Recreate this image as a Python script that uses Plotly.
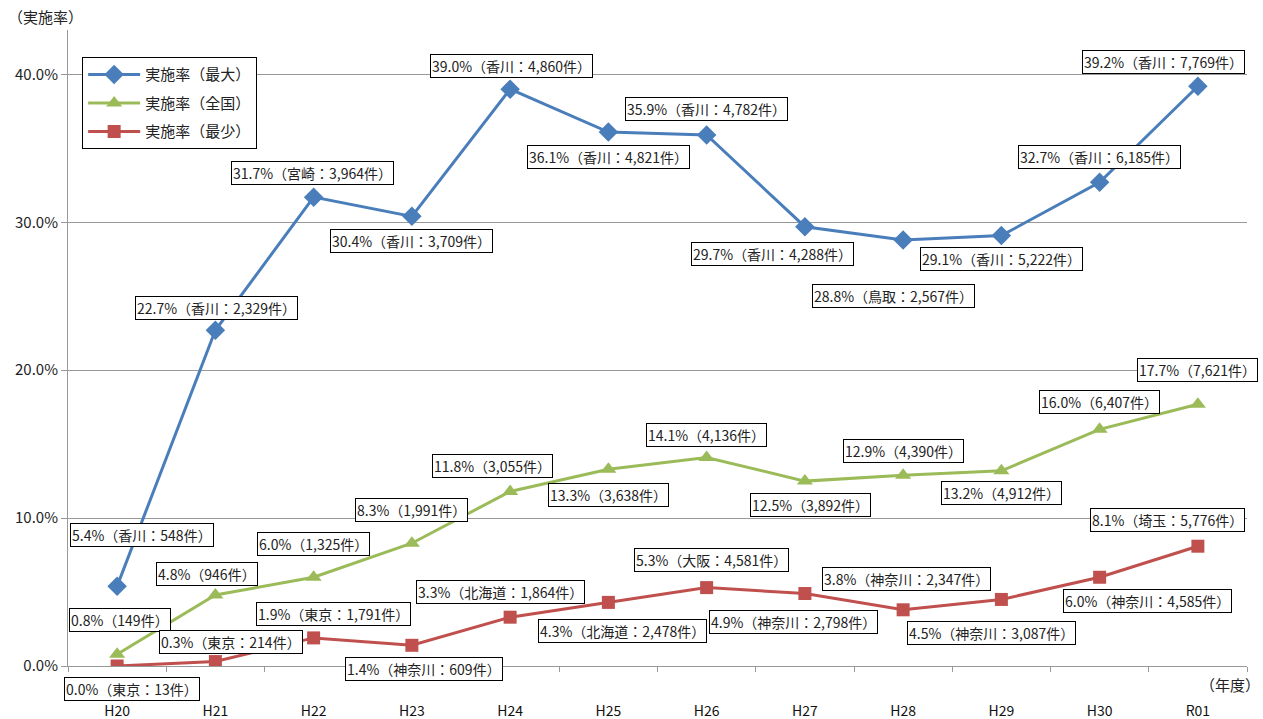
import plotly.graph_objects as go

years = ["H20", "H21", "H22", "H23", "H24", "H25", "H26", "H27", "H28", "H29", "H30", "R01"]

max_rate = [5.4, 22.7, 31.7, 30.4, 39.0, 36.1, 35.9, 29.7, 28.8, 29.1, 32.7, 39.2]
max_pref = ["香川", "香川", "宮崎", "香川", "香川", "香川", "香川", "香川", "鳥取", "香川", "香川", "香川"]
max_count = [548, 2329, 3964, 3709, 4860, 4821, 4782, 4288, 2567, 5222, 6185, 7769]

nat_rate = [0.8, 4.8, 6.0, 8.3, 11.8, 13.3, 14.1, 12.5, 12.9, 13.2, 16.0, 17.7]
nat_count = [149, 946, 1325, 1991, 3055, 3638, 4136, 3892, 4390, 4912, 6407, 7621]

min_rate = [0.0, 0.3, 1.9, 1.4, 3.3, 4.3, 5.3, 4.9, 3.8, 4.5, 6.0, 8.1]
min_pref = ["東京", "東京", "東京", "神奈川", "北海道", "北海道", "大阪", "神奈川", "神奈川", "神奈川", "神奈川", "埼玉"]
min_count = [13, 214, 1791, 609, 1864, 2478, 4581, 2798, 2347, 3087, 4585, 5776]

series_names = ["実施率（最大）", "実施率（全国）", "実施率（最少）"]
y_ticks = [0, 10, 20, 30, 40]
y_tick_labels = ["0.0%", "10.0%", "20.0%", "30.0%", "40.0%"]

# label offsets in pixels (dx, dy up)
max_off = [(25, 51), (1, 22), (-1, 24), (0, -25), (1, 23), (0, -25), (0, 26), (-32, -27), (-10, -56), (0, -23), (0, 25), (-34, 24)]
nat_off = [(3, 34), (-8, 21), (0, 33), (0, 33), (-18, 25), (0, -26), (0, 22), (6, -24), (0, 24), (0, -22), (0, 27), (0, 34)]
min_off = [(15, -23), (16, 20), (20, 24), (12, -24), (-10, 25), (14, -29), (5, 28), (-11, -28), (3, 31), (-10, -34), (48, -24), (-30, 26)]

BLUE = "#4A7EBB"
GREEN = "#9BBB59"
RED = "#C0504D"
FONT = "Noto Sans CJK JP"

fig = go.Figure()
fig.add_trace(go.Scatter(x=years, y=max_rate, name=series_names[0], mode="lines+markers",
                         line=dict(color=BLUE, width=3), marker=dict(symbol="diamond", size=15, color=BLUE),
                         legendgroup="a"))
fig.add_trace(go.Scatter(x=years, y=nat_rate, name=series_names[1], mode="lines+markers",
                         line=dict(color=GREEN, width=3), marker=dict(symbol="triangle-up", size=14, color=GREEN),
                         legendgroup="b"))
fig.add_trace(go.Scatter(x=years, y=min_rate, name=series_names[2], mode="lines+markers",
                         line=dict(color=RED, width=3), marker=dict(symbol="square", size=13, color=RED),
                         legendgroup="c"))

annotations = []
def add_labels(rates, texts, offs):
    for yr, v, t, (dx, dy) in zip(years, rates, texts, offs):
        annotations.append(dict(x=yr, y=v, xref="x", yref="y", text=t, showarrow=False,
                                xshift=dx, yshift=dy, bgcolor="white", bordercolor="black",
                                borderwidth=1, borderpad=1,
                                font=dict(family=FONT, size=14, color="#222")))

add_labels(max_rate, [f"{v:.1f}%（{p}：{c:,}件）" for v, p, c in zip(max_rate, max_pref, max_count)], max_off)
add_labels(nat_rate, [f"{v:.1f}%（{c:,}件）" for v, c in zip(nat_rate, nat_count)], nat_off)
add_labels(min_rate, [f"{v:.1f}%（{p}：{c:,}件）" for v, p, c in zip(min_rate, min_pref, min_count)], min_off)

annotations.append(dict(x=0, y=1, xref="paper", yref="paper", xanchor="left", yanchor="middle",
                        xshift=-62, yshift=14, text="（実施率）", showarrow=False,
                        font=dict(family=FONT, size=15, color="#222")))
annotations.append(dict(x=1, y=0, xref="paper", yref="paper", xanchor="right", yanchor="middle",
                        xshift=15, yshift=-18, text="（年度）", showarrow=False,
                        font=dict(family=FONT, size=15, color="#222")))

fig.update_layout(
    width=1263, height=719,
    margin=dict(l=68, r=16, t=30, b=53),
    paper_bgcolor="white", plot_bgcolor="white",
    font=dict(family=FONT, color="#222"),
    annotations=annotations,
    showlegend=True,
    legend=dict(x=0.012, y=0.957, xanchor="left", yanchor="top",
                bordercolor="black", borderwidth=1, bgcolor="white",
                font=dict(family=FONT, size=15), tracegroupgap=6,
                itemwidth=52),
    xaxis=dict(type="category", showgrid=False, showline=True, linecolor="#999", linewidth=1,
               ticks="outside", tickson="boundaries", ticklen=5, tickcolor="#999",
               tickfont=dict(family=FONT, size=14, color="#111"), range=[-0.5, 11.5],
               automargin=False, ticklabelstandoff=32),
    yaxis=dict(range=[0, 43], tickvals=y_ticks, ticktext=y_tick_labels,
               showgrid=True, gridcolor="#999", gridwidth=1, zeroline=False,
               showline=True, linecolor="#999", ticks="outside", ticklen=6, tickcolor="#999",
               tickfont=dict(family=FONT, size=15, color="#222"), automargin=False),
)

fig.write_html("out.html", config={"displayModeBar": False},
               post_script="document.body.style.margin='0';document.body.style.overflow='hidden';")
